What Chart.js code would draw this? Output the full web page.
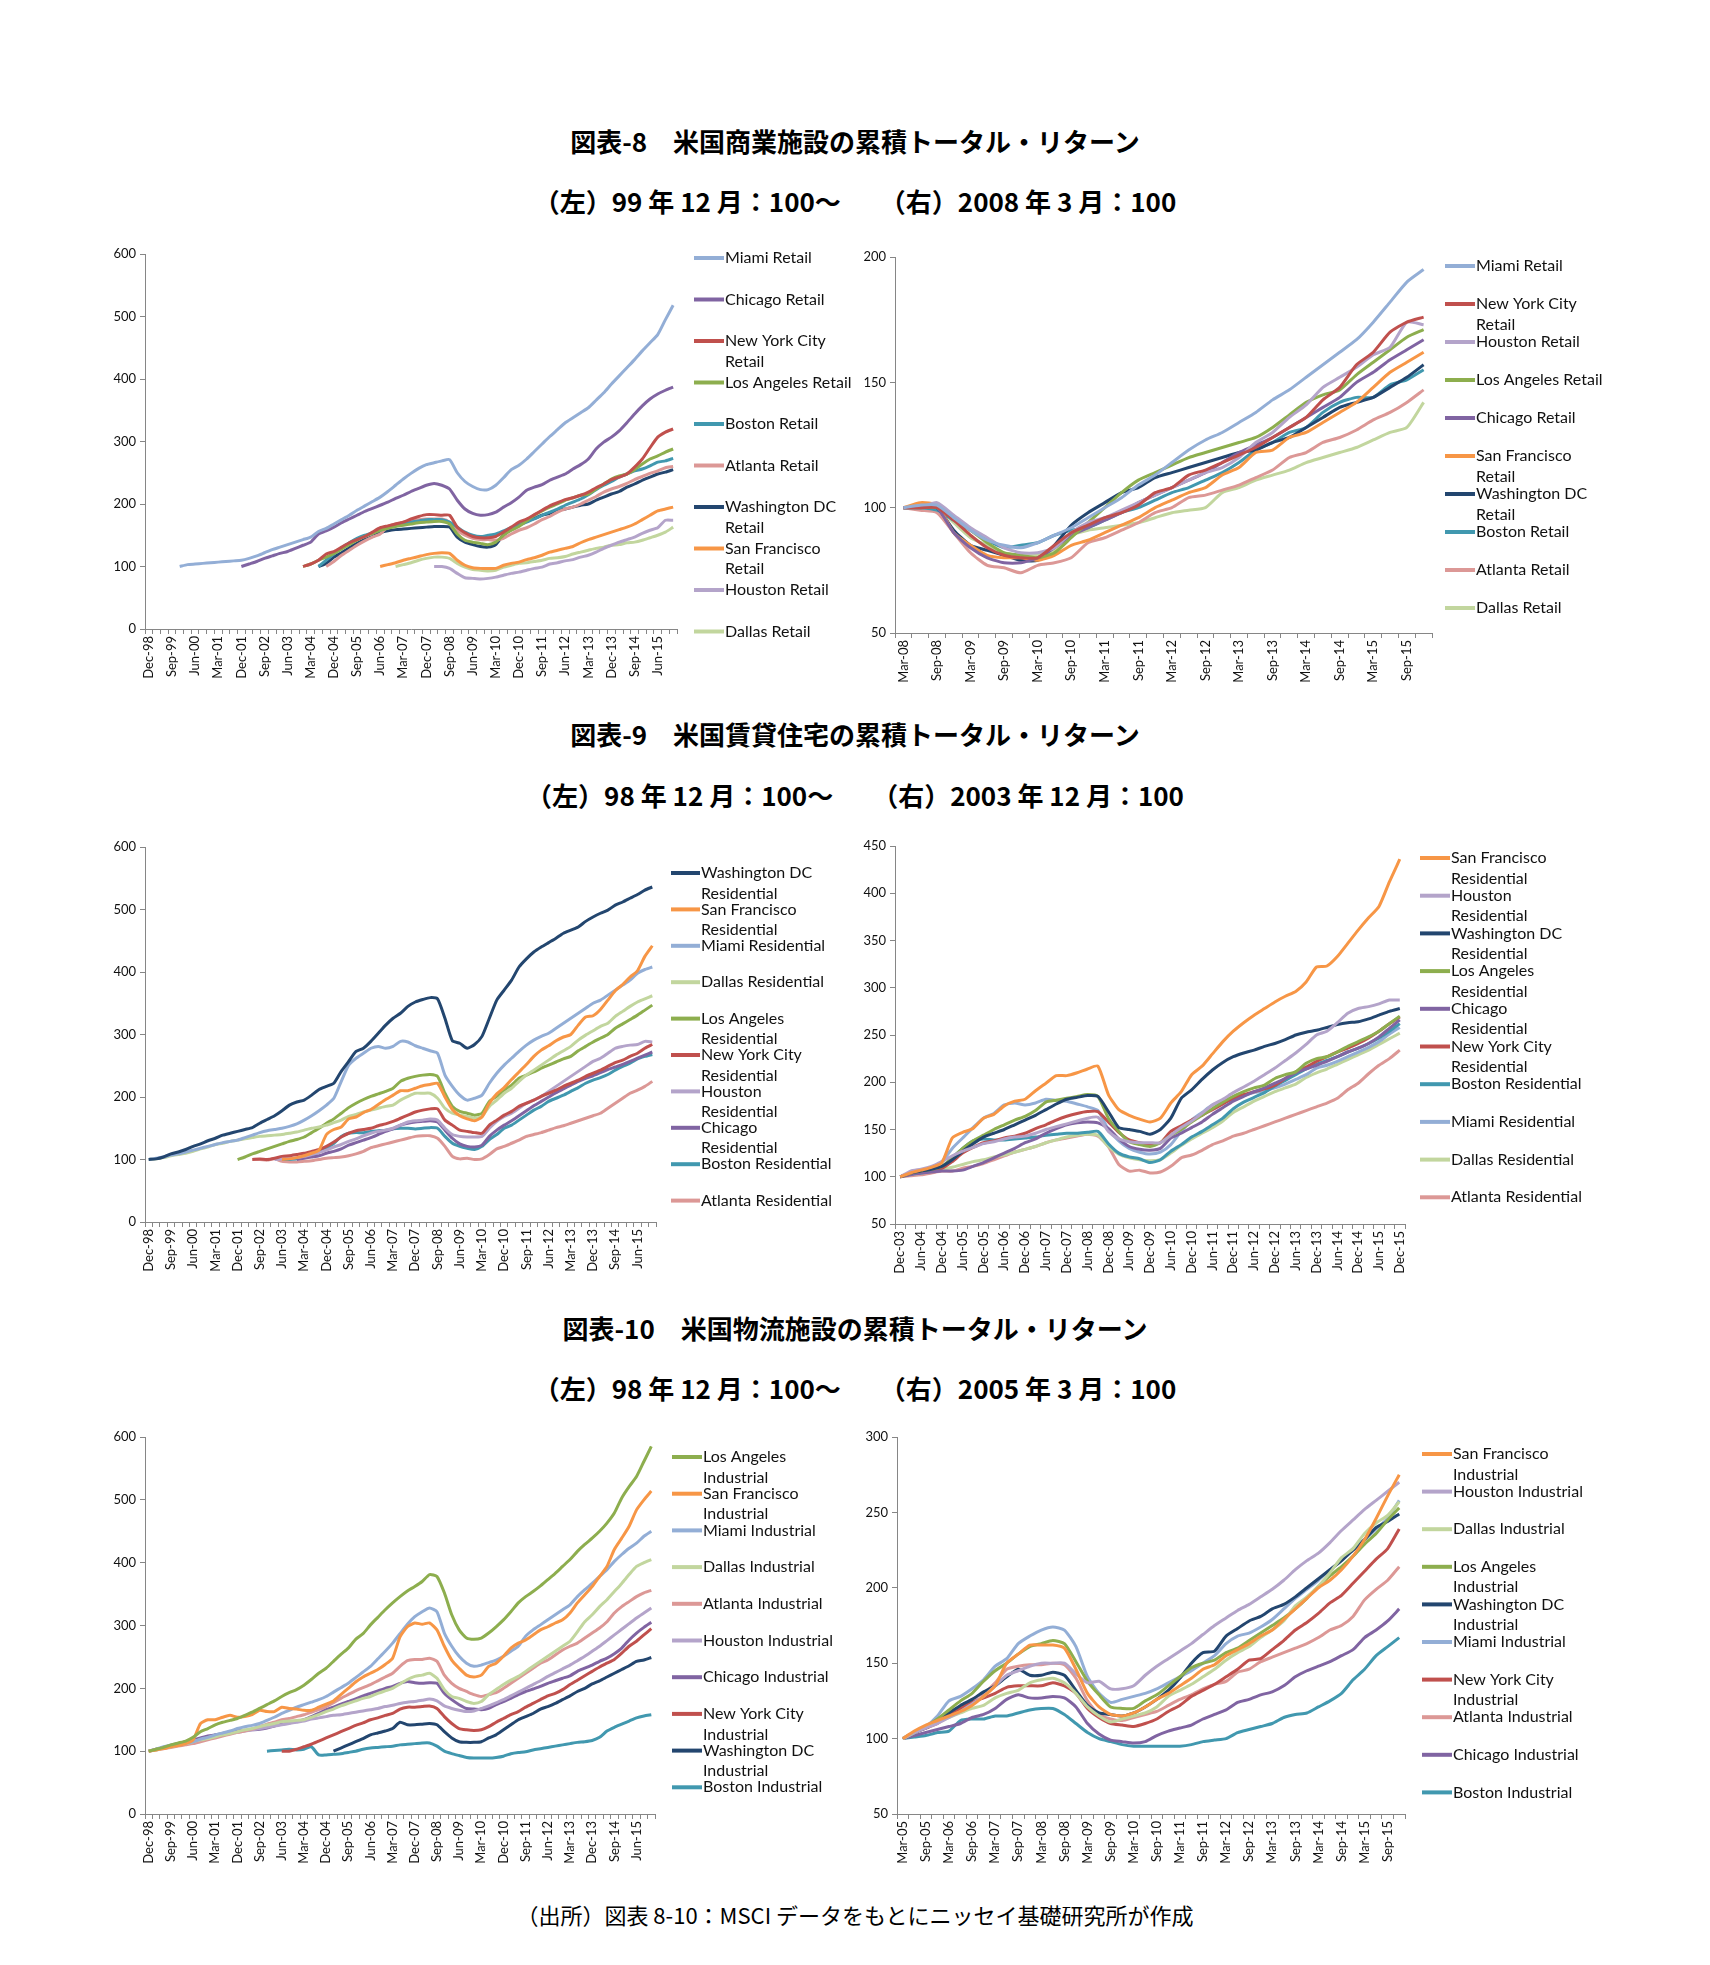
<!DOCTYPE html>
<html>
<head>
<meta charset="utf-8">
<script src="https://cdn.jsdelivr.net/npm/chart.js@4.4.0/dist/chart.umd.min.js"></script>
<style>
  body { margin: 0; background: #fff; width: 1710px; height: 1965px; position: relative; overflow: hidden; }
  .ttl { position: absolute; left: 0; width: 1710px; text-align: center; font-family: "Noto Sans CJK JP", sans-serif; font-weight: bold; font-size: 26px; line-height: 30px; color: #000; }
  .src { position: absolute; left: 0; width: 1710px; text-align: center; font-family: "Noto Sans CJK JP", sans-serif; font-size: 22px; line-height: 26px; color: #000; }
  canvas { position: absolute; }
</style>
</head>
<body>
<div class="ttl" style="top:126px">図表-8　米国商業施設の累積トータル・リターン</div>
<div class="ttl" style="top:186px">（左）99 年 12 月：100～　　（右）2008 年 3 月：100</div>
<div class="ttl" style="top:719px">図表-9　米国賃貸住宅の累積トータル・リターン</div>
<div class="ttl" style="top:780px">（左）98 年 12 月：100～　　（右）2003 年 12 月：100</div>
<div class="ttl" style="top:1313px">図表-10　米国物流施設の累積トータル・リターン</div>
<div class="ttl" style="top:1373px">（左）98 年 12 月：100～　　（右）2005 年 3 月：100</div>
<div class="src" style="top:1901px">（出所）図表 8-10：MSCI データをもとにニッセイ基礎研究所が作成</div>

<canvas id="c1" width="810" height="460" style="left:60px;top:240px"></canvas>
<canvas id="c2" width="860" height="460" style="left:810px;top:240px"></canvas>
<canvas id="c3" width="810" height="460" style="left:60px;top:830px"></canvas>
<canvas id="c4" width="860" height="460" style="left:810px;top:830px"></canvas>
<canvas id="c5" width="810" height="460" style="left:60px;top:1425px"></canvas>
<canvas id="c6" width="860" height="460" style="left:810px;top:1425px"></canvas>

<script>
// 四半期ラベル
function quarterLabels(month, year, count) {
    const months = ['Mar', 'Jun', 'Sep', 'Dec'];
    let m = months.indexOf(month), y = year;
    const out = [];
    for (let i = 0; i < count; i++) {
        out.push(months[m] + '-' + String(y).slice(2));
        m++;
        if (m > 3) { m = 0; y++; }
    }
    return out;
}
const pad = (n, v) => Array(n).fill(null).concat(v);

const qDec98 = quarterLabels('Dec', 1998, 69);
const qMar08 = quarterLabels('Mar', 2008, 32);
const qDec03 = quarterLabels('Dec', 2003, 49);
const qMar05 = quarterLabels('Mar', 2005, 44);

// ---- 図表-8 左 (Retail, 99年12月=100) ----
const r1Names = ['Miami Retail', 'Chicago Retail', 'New York City Retail', 'Los Angeles Retail', 'Boston Retail',
    'Atlanta Retail', 'Washington DC Retail', 'San Francisco Retail', 'Houston Retail', 'Dallas Retail'];
const r1Miami = pad(4, [100,103,104,105,106,107,108,109,110,113,117,122,127,131,135,139,143,147,156,161,
    168,175,182,190,197,204,211,220,230,240,249,257,263,266,269,271,250,236,228,223,
    223,230,242,255,262,272,284,296,308,319,330,338,346,354,366,378,392,405,418,431,445,458,471,495,518]);
const r1Chicago = pad(12, [100,104,108,113,117,121,124,129,134,139,152,157,163,170,176,182,188,193,198,203,
    209,214,220,225,230,233,230,224,206,192,185,182,183,187,195,202,211,222,227,231,
    238,243,248,256,263,272,288,299,307,317,330,344,357,368,376,382,387]);
const r1NewYork = pad(20, [100,104,110,120,124,131,138,143,148,155,162,165,168,171,176,180,183,183,182,182,
    163,154,148,146,146,148,155,163,171,176,183,190,197,202,207,210,214,219,226,232,
    239,243,248,259,272,290,307,315,320]);
const r1LosAngeles = pad(20, [100,104,110,115,121,128,135,142,148,153,158,161,164,166,168,170,171,172,172,168,
    152,142,139,137,135,139,150,158,164,173,182,189,195,200,206,210,214,216,224,232,
    240,245,248,255,264,272,277,283,288]);
const r1Boston = pad(22, [100,110,120,130,138,145,150,154,158,162,165,168,171,173,175,175,175,171,163,155,
    150,148,150,152,157,162,166,171,176,182,187,192,198,203,208,215,223,230,236,243,
    248,253,256,261,267,269,273]);
const r1Atlanta = pad(23, [100,108,118,126,134,141,147,152,164,168,171,173,175,176,176,176,171,158,150,145,
    143,143,142,145,152,158,162,168,175,180,187,192,195,200,206,212,219,224,228,233,
    239,244,249,253,258,260]);
const r1Washington = pad(22, [100,105,115,122,130,137,143,148,154,157,159,160,161,162,163,164,164,163,147,139,
    135,132,131,135,151,159,166,172,177,182,185,190,192,195,198,200,206,211,216,220,
    227,232,238,243,248,251,255]);
const r1SanFrancisco = pad(30, [100,103,106,110,113,116,119,121,122,121,110,102,98,97,97,97,102,105,107,111,
    114,118,123,126,129,132,138,143,147,151,155,159,163,168,175,182,189,192,195]);
const r1Houston = pad(37, [100,100,97,89,82,81,80,81,83,86,89,91,94,97,99,104,106,109,111,115,
    118,123,129,134,139,143,147,153,158,162,174,174]);
const r1Dallas = pad(32, [100,103,106,110,113,115,115,113,105,99,95,94,93,94,99,102,105,106,108,110,
    113,114,116,120,123,126,129,131,134,135,138,139,142,146,150,155,163]);

// ---- 図表-8 右 (Retail, 2008年3月=100) ----
const r2Names = ['Miami Retail', 'New York City Retail', 'Houston Retail', 'Los Angeles Retail', 'Chicago Retail',
    'San Francisco Retail', 'Washington DC Retail', 'Boston Retail', 'Atlanta Retail', 'Dallas Retail'];
const r2Miami = [100,101,101,96,91,87,85,84,86,89,92,96,100,104,109,113,118,123,127,130,134,138,143,147,152,157,162,167,174,182,190,195];
const r2NewYork = [100,100,100,95,89,84,81,80,80,85,90,93,96,98,101,106,108,113,115,118,121,124,128,132,136,143,148,157,162,170,174,176];
const r2Houston = [100,100,102,97,92,88,84,82,82,84,90,94,96,99,102,105,108,111,114,116,120,126,130,136,141,148,152,156,161,164,174,173];
const r2LosAngeles = [100,100,100,96,91,86,82,81,80,82,88,94,100,106,111,114,117,120,122,124,126,128,132,137,142,145,147,153,158,163,168,171];
const r2Chicago = [100,100,100,90,84,80,78,78,80,84,89,92,95,98,102,105,108,111,114,118,122,125,128,132,136,140,144,150,154,159,163,167];
const r2SanFrancisco = [100,102,101,90,85,81,80,80,79,81,85,87,90,93,96,100,103,106,108,113,116,122,123,128,130,134,138,142,148,154,158,162];
const r2Washington = [100,100,100,91,85,83,81,79,79,85,93,98,102,106,108,112,114,116,118,120,122,123,126,128,132,136,140,142,144,148,152,157];
const r2Boston = [100,100,99,95,91,87,84,85,86,89,91,92,95,98,100,103,106,108,111,114,118,123,126,130,132,138,142,144,144,149,151,155];
const r2Atlanta = [100,99,98,90,82,77,76,74,77,78,80,86,88,91,94,98,100,104,105,107,109,112,115,120,122,126,128,131,135,138,142,147];
const r2Dallas = [100,100,100,94,88,85,82,81,81,83,89,91,92,93,94,96,98,99,100,106,108,111,113,115,118,120,122,124,127,130,132,142];

// ---- 図表-9 左 (Residential, 98年12月=100) ----
const h1Names = ['Washington DC Residential', 'San Francisco Residential', 'Miami Residential', 'Dallas Residential',
    'Los Angeles Residential', 'New York City Residential', 'Houston Residential', 'Chicago Residential',
    'Boston Residential', 'Atlanta Residential'];
const h1Washington = [100,101,104,109,112,116,121,125,130,134,139,142,145,148,151,158,164,170,178,187,
    192,195,203,212,217,222,241,257,273,278,289,302,315,326,334,345,352,356,359,357,
    326,290,286,278,284,297,326,355,371,387,408,421,432,440,447,454,462,467,472,481,
    488,494,499,507,512,518,524,531,536];
const h1SanFrancisco = pad(18, [100,101,103,106,110,115,140,148,152,165,168,175,180,188,196,203,210,210,214,218,
    220,222,200,180,170,165,162,168,190,205,215,228,240,252,265,275,282,290,296,300,
    315,328,330,340,355,370,380,392,402,425,442]);
const h1Miami = [100,102,104,107,109,112,115,118,121,124,127,129,131,135,139,143,146,148,150,153,
    157,163,170,178,187,198,225,251,262,270,278,281,278,281,289,288,282,278,274,270,
    235,217,203,195,198,203,222,238,251,262,273,283,291,297,302,310,318,326,334,342,
    350,355,363,371,379,387,398,404,408];
const h1Dallas = [100,101,103,106,108,110,113,117,120,124,126,129,131,133,135,137,138,139,140,142,
    144,147,150,152,155,159,163,169,172,176,179,182,185,187,195,201,206,206,206,198,
    182,174,171,169,166,169,185,195,206,214,225,235,243,251,259,267,274,281,291,299,
    306,313,318,329,337,345,352,357,362];
const h1LosAngeles = pad(12, [100,104,109,113,117,121,125,129,132,136,143,150,158,165,174,183,190,196,201,205,
    209,214,225,230,233,235,236,233,206,185,177,174,171,174,193,201,211,219,230,235,
    240,246,251,256,261,265,274,281,288,294,300,310,317,324,331,339,347]);
const h1NewYork = pad(14, [100,101,100,102,105,106,108,110,113,116,121,128,136,142,146,148,150,154,157,161,
    166,171,176,179,181,181,163,155,147,145,143,142,155,163,171,177,185,190,195,201,
    206,211,217,222,227,233,238,243,249,255,259,265,270,278,284]);
const h1Houston = pad(17, [100,101,102,103,105,108,111,115,120,124,129,133,138,142,145,147,150,155,160,162,
    163,165,163,150,140,137,136,136,137,150,161,169,174,182,190,195,201,209,217,225,
    233,241,249,257,262,270,278,281,283,284,289,288]);
const h1Chicago = pad(20, [100,102,104,106,110,113,117,123,127,131,135,140,145,149,155,158,160,161,162,160,
    147,134,125,121,120,123,137,147,155,162,170,178,186,193,200,207,213,219,225,230,
    234,239,244,248,252,257,262,267,272]);
const h1Boston = pad(18, [100,100,101,105,108,112,118,126,137,142,143,143,145,146,147,149,150,150,149,150,
    151,150,137,126,121,118,116,121,132,140,150,155,163,171,179,185,193,198,203,209,
    215,222,227,231,236,243,249,254,261,265,268]);
const h1Atlanta = pad(14, [100,100,99,101,97,96,96,97,98,100,102,103,104,106,109,113,119,122,125,128,
    131,134,137,138,138,134,121,105,101,102,100,101,108,117,121,126,131,137,140,143,
    147,151,154,158,162,166,170,174,182,190,198,206,211,217,225]);

// ---- 図表-9 右 (Residential, 2003年12月=100) ----
const h2Names = ['San Francisco Residential', 'Houston Residential', 'Washington DC Residential', 'Los Angeles Residential',
    'Chicago Residential', 'New York City Residential', 'Boston Residential', 'Miami Residential',
    'Dallas Residential', 'Atlanta Residential'];
const h2SanFrancisco = [100,104,107,110,115,141,147,151,162,166,175,180,182,191,199,207,207,210,214,217,
    187,171,165,161,158,162,178,190,208,217,230,243,254,263,271,278,285,291,296,306,322,323,333,347,361,374,386,412,436];
const h2Houston = [100,106,108,111,116,122,127,131,135,137,140,142,143,146,150,153,156,159,162,163,
    148,140,137,136,136,136,144,152,159,167,176,182,189,195,201,208,215,223,231,240,250,254,263,273,278,280,283,287,287];
const h2Washington = [100,104,106,108,111,118,127,135,142,146,150,155,160,165,171,177,182,184,186,185,
    169,152,150,148,145,150,162,183,192,203,213,221,227,231,234,238,241,245,250,253,255,258,261,263,264,267,271,275,278];
const h2LosAngeles = [100,104,106,108,111,120,130,138,144,150,155,160,164,170,179,181,183,185,187,185,
    162,148,137,134,132,136,144,150,158,165,172,179,185,190,194,197,204,208,211,220,225,227,232,238,243,248,254,262,270];
const h2Chicago = [100,102,104,105,106,106,107,111,115,120,125,130,136,140,146,151,155,157,158,157,
    151,140,132,129,128,130,141,146,152,158,166,173,180,185,190,194,199,204,210,214,218,222,227,232,236,241,248,257,266];
const h2NewYork = [100,103,105,107,109,116,125,131,136,138,141,143,146,151,155,160,164,167,169,169,
    158,147,139,136,134,136,148,154,160,165,171,177,183,187,190,193,197,204,211,216,222,227,232,236,241,247,254,262,269];
const h2Boston = [100,103,104,106,110,120,130,138,140,139,139,140,141,142,144,145,146,146,147,148,
    135,125,121,119,115,118,127,134,142,148,155,162,172,179,184,189,196,202,208,214,219,223,227,232,236,241,247,254,262];
const h2Miami = [100,104,106,110,116,130,141,152,162,167,176,178,176,178,182,181,180,177,174,170,
    150,138,130,126,124,126,134,148,160,168,176,180,183,186,189,191,194,198,203,208,215,218,222,227,232,237,243,251,258];
const h2Dallas = [100,102,104,106,108,110,113,116,118,121,123,126,129,132,136,139,142,144,145,144,
    132,124,120,118,117,118,125,133,140,146,152,159,168,174,180,185,190,194,198,205,210,214,219,224,229,234,240,246,252];
const h2Atlanta = [100,101,102,104,106,106,109,111,114,118,122,126,129,132,136,139,141,143,145,143,
    132,113,106,107,104,105,111,120,123,128,134,138,143,146,150,154,158,162,166,170,174,178,183,192,199,209,218,225,234];

// ---- 図表-10 左 (Industrial, 98年12月=100) ----
const i1Names = ['Los Angeles Industrial', 'San Francisco Industrial', 'Miami Industrial', 'Dallas Industrial',
    'Atlanta Industrial', 'Houston Industrial', 'Chicago Industrial', 'New York City Industrial',
    'Washington DC Industrial', 'Boston Industrial'];
const i1LosAngeles = [100,103,106,110,113,116,122,131,136,142,146,149,152,157,162,168,174,180,187,193,
    198,205,214,224,232,243,254,264,278,287,301,313,325,336,346,355,362,370,381,378,
    352,317,293,280,278,280,288,298,309,322,336,346,354,363,373,383,394,405,418,429,
    439,450,463,479,503,521,537,561,585];
const i1SanFrancisco = [100,102,104,107,109,112,118,144,150,150,154,157,154,155,158,165,163,163,170,168,
    167,165,165,170,175,180,190,200,210,218,224,230,238,248,282,298,304,302,304,293,
    267,245,232,221,218,221,235,240,251,264,272,277,285,293,298,304,309,320,336,349,
    362,378,394,421,439,458,484,500,514];
const i1Miami = [100,103,107,110,112,113,115,119,122,126,129,132,136,139,141,144,149,154,160,165,
    170,174,178,182,187,194,201,208,217,226,235,247,259,272,287,302,314,322,328,322,
    288,267,251,240,235,237,241,245,251,259,267,283,293,301,309,317,325,333,346,357,
    367,378,389,402,413,423,431,442,450];
const i1Dallas = [100,102,105,107,110,112,115,118,120,123,126,128,131,134,136,139,142,144,147,148,
    149,150,154,158,163,167,172,176,180,184,187,192,196,200,207,214,219,221,224,216,
    198,187,184,179,176,179,190,198,206,213,219,227,235,243,251,259,267,275,290,306,
    317,330,341,354,367,381,394,400,405];
const i1Atlanta = [100,102,104,106,108,110,112,115,118,121,124,127,130,132,135,139,143,146,150,152,
    155,158,162,166,171,177,184,190,196,201,206,212,218,224,235,244,246,246,248,243,
    221,208,200,195,190,187,190,193,200,208,216,224,232,240,245,253,261,267,272,280,
    288,296,306,320,330,338,346,352,356];
const i1Houston = [100,103,105,108,110,113,116,118,121,124,126,128,130,132,134,136,138,140,142,144,
    146,148,151,153,155,157,158,160,162,164,166,168,171,173,176,178,179,181,183,180,
    172,168,165,163,164,168,172,177,182,188,194,200,206,212,219,225,231,237,244,251,
    259,267,276,285,294,303,312,320,328];
const i1Chicago = [100,103,106,109,112,115,118,121,124,126,128,130,132,133,134,135,137,140,143,145,
    147,150,155,160,166,170,175,179,183,188,192,196,200,203,208,211,209,208,209,208,
    192,182,174,168,167,166,168,174,179,184,190,195,199,203,208,212,216,220,227,232,
    237,243,248,255,264,277,288,297,305];
const i1NewYork = pad(18, [100,100,103,107,111,116,121,126,131,136,141,145,150,153,157,160,167,170,170,171,
    172,168,155,144,136,134,133,134,139,146,152,158,163,170,176,182,188,192,198,206,
    213,220,227,234,240,246,256,267,275,285,295]);
const i1Washington = pad(25, [100,105,110,115,120,126,129,132,136,146,142,142,143,144,142,131,121,115,114,114,
    115,121,126,134,142,150,155,160,167,171,176,182,188,195,200,207,212,218,224,230,
    236,243,245,249]);
const i1Boston = pad(16, [100,101,102,103,102,103,107,94,94,95,96,98,100,103,105,106,107,108,110,111,
    112,113,113,108,100,96,93,90,89,89,89,90,92,96,98,99,102,104,106,108,
    110,112,114,115,117,122,132,138,143,148,153,156,158]);

// ---- 図表-10 右 (Industrial, 2005年3月=100) ----
const i2Names = ['San Francisco Industrial', 'Houston Industrial', 'Dallas Industrial', 'Los Angeles Industrial',
    'Washington DC Industrial', 'Miami Industrial', 'New York City Industrial', 'Atlanta Industrial',
    'Chicago Industrial', 'Boston Industrial'];
const i2SanFrancisco = [100,105,109,112,115,118,122,128,135,150,156,162,162,162,160,146,130,121,116,115,
    117,121,126,130,135,140,146,149,155,159,163,168,172,179,186,193,200,205,212,221,232,246,261,275];
const i2Houston = [100,104,107,110,114,118,123,128,135,142,145,148,150,150,150,143,137,138,133,133,
    135,142,148,153,158,163,169,175,180,185,189,194,199,205,212,218,223,230,238,245,252,258,264,270];
const i2Dallas = [100,104,108,111,114,117,120,122,127,130,132,137,139,140,137,130,121,115,111,113,
    115,117,121,128,132,136,141,146,152,157,161,167,172,178,188,194,201,210,220,226,236,243,248,257];
const i2LosAngeles = [100,104,108,113,119,125,130,138,145,150,156,161,163,165,163,151,138,129,121,120,
    120,125,129,135,141,147,150,152,157,160,165,170,175,180,186,193,201,208,214,221,229,236,245,253];
const i2Washington = [100,104,107,112,117,122,126,131,135,141,146,142,142,144,142,132,122,117,116,115,
    117,121,126,132,140,150,157,158,168,173,178,181,186,189,194,200,206,212,218,225,232,240,244,249];
const i2Miami = [100,104,108,115,125,128,133,139,148,153,163,168,172,174,172,161,141,130,124,126,
    128,130,133,137,141,145,150,155,163,168,170,174,179,186,193,199,205,212,218,226,232,239,246,258];
const i2NewYork = [100,104,107,110,115,120,124,127,130,134,135,135,135,137,135,130,120,114,110,109,
    108,110,113,118,122,128,132,136,141,146,152,153,159,165,172,177,183,190,195,203,211,219,226,239];
const i2Atlanta = [100,104,108,113,117,121,126,130,137,146,148,149,149,150,149,140,125,116,113,112,
    114,116,118,122,126,129,133,136,138,144,146,151,154,157,160,163,167,172,175,181,192,199,205,214];
const i2Chicago = [100,102,104,106,108,110,114,116,120,126,129,127,127,128,127,121,110,103,99,98,
    97,98,102,105,107,109,113,116,119,124,126,129,131,135,141,145,148,151,155,159,167,172,178,186];
const i2Boston = [100,101,102,104,105,112,113,113,115,115,117,119,120,120,116,110,104,100,98,96,
    95,95,95,95,95,96,98,99,100,104,106,108,110,114,116,117,121,125,130,139,146,155,161,167];

// 都市ごとの色
const cityColor = {
    'Miami': '#93AED6', 'Chicago': '#8064A2', 'New York City': '#C0504D', 'Los Angeles': '#8DAE4E',
    'Boston': '#4198AF', 'Atlanta': '#DC9896', 'Washington DC': '#23466F', 'San Francisco': '#F79646',
    'Houston': '#B4A4CA', 'Dallas': '#C2D69E'
};
function colorOf(name) {
    for (const k in cityColor) if (name.indexOf(k) === 0) return cityColor[k];
    return '#888';
}

function wrapText(ctx, text, maxW) {
    const words = text.split(' ');
    const lines = [];
    let cur = '';
    words.forEach(w => {
        const t = cur ? cur + ' ' + w : w;
        if (cur && ctx.measureText(t).width > maxW) { lines.push(cur); cur = w; }
        else cur = t;
    });
    lines.push(cur);
    return lines;
}

// 右側の凡例
const sideLegend = {
    id: 'sideLegend',
    afterDraw(chart, args, o) {
        const ctx = chart.ctx;
        ctx.save();
        ctx.font = '16px Lato';
        ctx.textBaseline = 'middle';
        ctx.textAlign = 'left';
        chart.data.datasets.forEach((ds, i) => {
            const y = o.y + i * o.pitch;
            ctx.strokeStyle = ds.borderColor;
            ctx.lineWidth = 4;
            ctx.beginPath();
            ctx.moveTo(o.x, y);
            ctx.lineTo(o.textX - 1, y);
            ctx.stroke();
            ctx.fillStyle = '#111';
            wrapText(ctx, ds.label, o.wrap).forEach((line, k) => ctx.fillText(line, o.textX, y + k * 20.5));
        });
        ctx.restore();
    }
};

function createChart(id, labels, names, series, o) {
    const ctx = document.getElementById(id).getContext('2d');
    return new Chart(ctx, {
        type: 'line',
        data: {
            labels: labels,
            datasets: names.map((n, i) => ({
                label: n,
                data: series[i],
                borderColor: colorOf(n),
                borderWidth: 3,
                pointRadius: 0,
                tension: 0.2,
                fill: false
            }))
        },
        options: {
            responsive: false,
            animation: false,
            events: [],
            layout: { padding: { top: o.padTop, right: o.padRight, left: 0, bottom: 0 } },
            plugins: {
                legend: { display: false },
                tooltip: { enabled: false },
                sideLegend: o.legend
            },
            scales: {
                x: {
                    offset: true,
                    grid: { display: true, drawOnChartArea: false, drawTicks: true, tickLength: 5, color: '#868686', offset: true },
                    border: { display: true, color: '#868686' },
                    ticks: {
                        autoSkip: false, minRotation: 90, maxRotation: 90, padding: 2,
                        font: { family: 'Lato', size: 13 }, color: '#111',
                        callback: function (v, i) { return i % o.every === 0 ? this.getLabelForValue(v) : ''; }
                    },
                    afterFit: s => { s.height = o.xH; }
                },
                y: {
                    min: o.yMin, max: o.yMax,
                    grid: { display: true, drawOnChartArea: false, drawTicks: true, tickLength: 5, color: '#868686' },
                    border: { display: true, color: '#868686' },
                    ticks: { stepSize: o.yStep, padding: 4, font: { family: 'Lato', size: 13 }, color: '#111' },
                    afterFit: s => { s.width = o.yW; }
                }
            }
        },
        plugins: [sideLegend]
    });
}

createChart('c1', qDec98, r1Names,
    [r1Miami, r1Chicago, r1NewYork, r1LosAngeles, r1Boston, r1Atlanta, r1Washington, r1SanFrancisco, r1Houston, r1Dallas],
    { yMin: 0, yMax: 600, yStep: 100, every: 3, yW: 85, xH: 71, padTop: 14, padRight: 193,
      legend: { x: 634, textX: 665, y: 18, pitch: 41.5, wrap: 131 } });

createChart('c2', qMar08, r2Names,
    [r2Miami, r2NewYork, r2Houston, r2LosAngeles, r2Chicago, r2SanFrancisco, r2Washington, r2Boston, r2Atlanta, r2Dallas],
    { yMin: 50, yMax: 200, yStep: 50, every: 2, yW: 85, xH: 67, padTop: 17, padRight: 238,
      legend: { x: 635, textX: 666, y: 26, pitch: 38, wrap: 131 } });

createChart('c3', qDec98, h1Names,
    [h1Washington, h1SanFrancisco, h1Miami, h1Dallas, h1LosAngeles, h1NewYork, h1Houston, h1Chicago, h1Boston, h1Atlanta],
    { yMin: 0, yMax: 600, yStep: 100, every: 3, yW: 85, xH: 68, padTop: 17, padRight: 214,
      legend: { x: 611, textX: 641, y: 43, pitch: 36.4, wrap: 131 } });

createChart('c4', qDec03, h2Names,
    [h2SanFrancisco, h2Houston, h2Washington, h2LosAngeles, h2Chicago, h2NewYork, h2Boston, h2Miami, h2Dallas, h2Atlanta],
    { yMin: 50, yMax: 450, yStep: 50, every: 2, yW: 85, xH: 66, padTop: 16, padRight: 265,
      legend: { x: 610, textX: 641, y: 28, pitch: 37.7, wrap: 131 } });

createChart('c5', qDec98, i1Names,
    [i1LosAngeles, i1SanFrancisco, i1Miami, i1Dallas, i1Atlanta, i1Houston, i1Chicago, i1NewYork, i1Washington, i1Boston],
    { yMin: 0, yMax: 600, yStep: 100, every: 3, yW: 85, xH: 71, padTop: 12, padRight: 215,
      legend: { x: 612, textX: 643, y: 32, pitch: 36.7, wrap: 131 } });

createChart('c6', qMar05, i2Names,
    [i2SanFrancisco, i2Houston, i2Dallas, i2LosAngeles, i2Washington, i2Miami, i2NewYork, i2Atlanta, i2Chicago, i2Boston],
    { yMin: 50, yMax: 300, yStep: 50, every: 2, yW: 87, xH: 71, padTop: 12, padRight: 265,
      legend: { x: 612, textX: 643, y: 29, pitch: 37.6, wrap: 131 } });
</script>
</body>
</html>
